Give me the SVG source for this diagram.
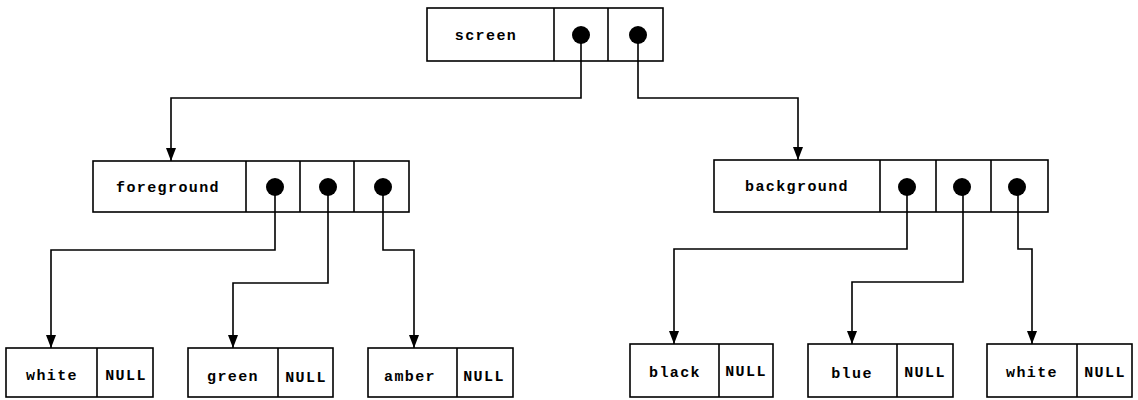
<svg xmlns="http://www.w3.org/2000/svg" width="1138" height="400" viewBox="0 0 1138 400">
<style>
.box{fill:#fff;stroke:#000;stroke-width:1.6}
.div{stroke:#000;stroke-width:1.6}
.dot{fill:#000}
.lbl{font-family:"Liberation Mono","DejaVu Sans Mono",monospace;font-size:15px;font-weight:bold;letter-spacing:1.4px;text-anchor:middle;fill:#000}
.lnk{fill:none;stroke:#000;stroke-width:1.6;marker-end:url(#ah)}
</style>
<defs>
<marker id="ah" markerUnits="userSpaceOnUse" markerWidth="13" markerHeight="10" viewBox="0 0 13 10" refX="13" refY="5" orient="auto">
<path d="M0,0 L13,5 L0,10 Z" fill="#000"/>
</marker>
</defs>
<rect width="1138" height="400" fill="#fff"/>
<g id="screen">
<rect class="box" x="427" y="8" width="236" height="53"/>
<line class="div" x1="554" y1="8" x2="554" y2="61"/>
<line class="div" x1="608" y1="8" x2="608" y2="61"/>
<circle class="dot" cx="581" cy="35" r="9"/>
<circle class="dot" cx="638" cy="35" r="9"/>
<text class="lbl" x="486" y="40">screen</text>
</g>
<g id="foreground">
<rect class="box" x="93" y="161" width="316" height="51"/>
<line class="div" x1="246" y1="161" x2="246" y2="212"/>
<line class="div" x1="300" y1="161" x2="300" y2="212"/>
<line class="div" x1="354" y1="161" x2="354" y2="212"/>
<circle class="dot" cx="275" cy="187" r="9"/>
<circle class="dot" cx="328" cy="187" r="9"/>
<circle class="dot" cx="383" cy="187" r="9"/>
<text class="lbl" x="168" y="192">foreground</text>
</g>
<g id="background">
<rect class="box" x="714" y="160" width="334" height="52"/>
<line class="div" x1="880" y1="160" x2="880" y2="212"/>
<line class="div" x1="936" y1="160" x2="936" y2="212"/>
<line class="div" x1="991" y1="160" x2="991" y2="212"/>
<circle class="dot" cx="907" cy="187" r="9"/>
<circle class="dot" cx="962" cy="187" r="9"/>
<circle class="dot" cx="1017" cy="187" r="9"/>
<text class="lbl" x="797" y="191">background</text>
</g>
<g id="white1">
<rect class="box" x="6" y="348" width="147" height="49"/>
<line class="div" x1="97" y1="348" x2="97" y2="397"/>
<text class="lbl" x="52" y="380">white</text>
<text class="lbl" x="126" y="380">NULL</text>
</g>
<g id="green">
<rect class="box" x="188" y="348" width="145" height="49"/>
<line class="div" x1="278" y1="348" x2="278" y2="397"/>
<text class="lbl" x="233" y="381">green</text>
<text class="lbl" x="306" y="382">NULL</text>
</g>
<g id="amber">
<rect class="box" x="368" y="348" width="145" height="49"/>
<line class="div" x1="457" y1="348" x2="457" y2="397"/>
<text class="lbl" x="410" y="381">amber</text>
<text class="lbl" x="484" y="381">NULL</text>
</g>
<g id="black">
<rect class="box" x="630" y="344" width="143" height="53"/>
<line class="div" x1="719" y1="344" x2="719" y2="397"/>
<text class="lbl" x="675" y="377">black</text>
<text class="lbl" x="746" y="376">NULL</text>
</g>
<g id="blue">
<rect class="box" x="808" y="344" width="145" height="53"/>
<line class="div" x1="897" y1="344" x2="897" y2="397"/>
<text class="lbl" x="852" y="378">blue</text>
<text class="lbl" x="925" y="377">NULL</text>
</g>
<g id="white2">
<rect class="box" x="987" y="344" width="145" height="53"/>
<line class="div" x1="1077" y1="344" x2="1077" y2="397"/>
<text class="lbl" x="1032" y="377">white</text>
<text class="lbl" x="1105" y="377">NULL</text>
</g>
<g id="connectors">
<path class="lnk" d="M581,35 V98 H171 V161"/>
<path class="lnk" d="M638,35 V98 H798 V160"/>
<path class="lnk" d="M275,187 V250 H51 V348"/>
<path class="lnk" d="M328,187 V283 H233 V348"/>
<path class="lnk" d="M383,187 V250 H414 V348"/>
<path class="lnk" d="M907,187 V249 H674 V344"/>
<path class="lnk" d="M963,187 V282 H852 V344"/>
<path class="lnk" d="M1018,187 V249 H1032 V344"/>
</g>
</svg>
